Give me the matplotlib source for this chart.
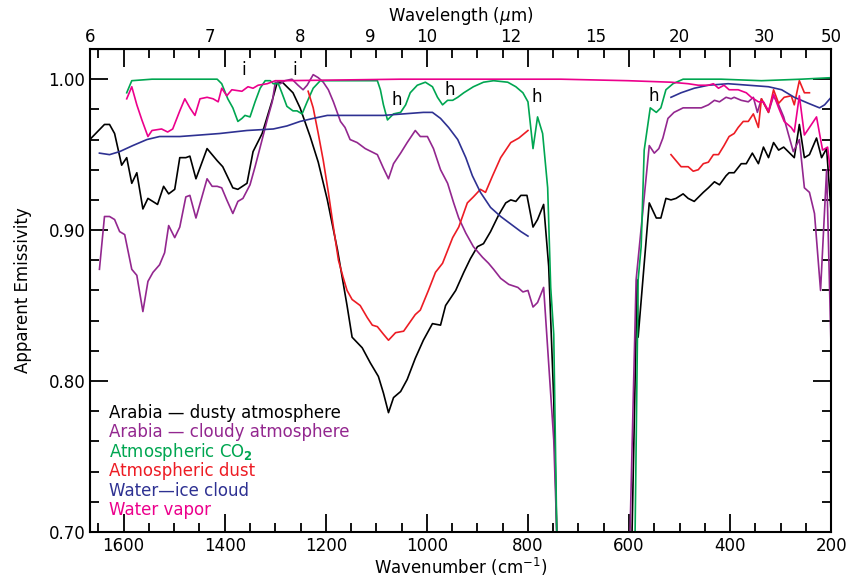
import matplotlib
matplotlib.use("Agg")
import matplotlib.pyplot as plt
import numpy as np
from matplotlib.ticker import MultipleLocator, FormatStrFormatter, NullLocator

# wavenumber (cm^-1) / apparent emissivity
dusty_wn = [1667, 1638, 1628, 1618, 1604, 1594, 1584, 1574, 1562, 1552, 1533, 1521, 1511, 1499,
            1489, 1477, 1469, 1457, 1435, 1415, 1404, 1384, 1374, 1356, 1344, 1326, 1316, 1306,
            1296, 1286, 1265, 1251, 1231, 1215, 1197, 1177, 1158, 1148, 1128, 1112, 1096, 1086,
            1076, 1066, 1052, 1039, 1023, 1007, 989, 973, 963, 943, 927, 914, 900, 888, 874, 858,
            844, 834, 824, 814, 802, 790, 781, 769, 759, 749, 743, 736]
dusty_e = [0.960, 0.970, 0.970, 0.964, 0.943, 0.948, 0.931, 0.938, 0.914, 0.921, 0.917, 0.929,
           0.924, 0.927, 0.948, 0.948, 0.949, 0.934, 0.954, 0.946, 0.942, 0.928, 0.927, 0.931,
           0.952, 0.964, 0.975, 0.986, 0.998, 0.998, 0.991, 0.981, 0.962, 0.945, 0.920, 0.887,
           0.850, 0.829, 0.822, 0.812, 0.803, 0.792, 0.779, 0.789, 0.793, 0.801, 0.815, 0.827,
           0.838, 0.837, 0.850, 0.860, 0.872, 0.881, 0.889, 0.891, 0.899, 0.910, 0.918, 0.920,
           0.919, 0.923, 0.923, 0.902, 0.907, 0.917, 0.876, 0.788, 0.700, 0.600]
dusty_wn2 = [600, 594, 584, 582, 560, 546, 537, 527, 517, 507, 493, 483, 471, 453, 443, 431, 421,
             408, 402, 392, 378, 368, 356, 344, 334, 324, 314, 304, 294, 285, 273, 263, 253, 243,
             229, 219, 209, 200]
dusty_e2 = [0.600, 0.700, 0.867, 0.829, 0.918, 0.908, 0.908, 0.921, 0.920, 0.921, 0.924, 0.921,
            0.919, 0.925, 0.928, 0.932, 0.930, 0.936, 0.938, 0.938, 0.944, 0.944, 0.951, 0.944,
            0.955, 0.948, 0.958, 0.953, 0.955, 0.952, 0.948, 0.970, 0.948, 0.950, 0.961, 0.948,
            0.954, 0.911]

cloudy_wn = [1648, 1638, 1628, 1618, 1608, 1598, 1584, 1574, 1562, 1552, 1542, 1529, 1519, 1511,
             1499, 1489, 1477, 1469, 1457, 1435, 1425, 1415, 1406, 1396, 1384, 1374, 1364, 1350,
             1340, 1326, 1316, 1306, 1300, 1290, 1281, 1267, 1255, 1245, 1237, 1225, 1215, 1205,
             1195, 1185, 1171, 1162, 1152, 1138, 1122, 1098, 1086, 1076, 1066, 1052, 1039, 1023,
             1013, 999, 987, 973, 959, 947, 937, 923, 908, 890, 878, 868, 854, 838, 820, 810, 800,
             790, 781, 769, 749, 743, 729]
cloudy_e = [0.874, 0.909, 0.909, 0.907, 0.899, 0.897, 0.874, 0.870, 0.846, 0.866, 0.872, 0.877,
            0.885, 0.903, 0.895, 0.902, 0.922, 0.923, 0.908, 0.934, 0.929, 0.929, 0.928, 0.920,
            0.911, 0.919, 0.921, 0.930, 0.942, 0.960, 0.973, 0.985, 0.998, 0.997, 0.999, 1.000,
            0.996, 0.993, 0.996, 1.003, 1.001, 0.998, 0.993, 0.985, 0.972, 0.968, 0.960, 0.958,
            0.954, 0.950, 0.941, 0.934, 0.944, 0.951, 0.958, 0.966, 0.962, 0.962, 0.954, 0.940,
            0.931, 0.918, 0.908, 0.898, 0.889, 0.882, 0.878, 0.874, 0.868, 0.864, 0.862, 0.859,
            0.860, 0.849, 0.852, 0.862, 0.761, 0.700, 0.600]
cloudy_wn2 = [603, 598, 586, 560, 550, 541, 533, 523, 511, 493, 483, 471, 457, 443, 431, 421, 408,
              398, 392, 378, 364, 354, 346, 338, 324, 314, 304, 294, 285, 275, 263, 253, 243, 233,
              221, 209, 200]
cloudy_e2 = [0.600, 0.700, 0.867, 0.956, 0.951, 0.954, 0.961, 0.974, 0.978, 0.981, 0.981, 0.981,
             0.981, 0.983, 0.986, 0.985, 0.988, 0.987, 0.988, 0.986, 0.985, 0.988, 0.978, 0.987,
             0.978, 0.989, 0.983, 0.975, 0.964, 0.952, 0.960, 0.928, 0.925, 0.911, 0.860, 0.940,
             0.819]

co2_wn = [1594, 1584, 1544, 1479, 1415, 1406, 1394, 1384, 1374, 1366, 1360, 1350, 1340, 1330,
          1320, 1310, 1304, 1294, 1287, 1277, 1265, 1257, 1247, 1237, 1225, 1211, 1098, 1092, 1086,
          1078, 1066, 1052, 1042, 1033, 1019, 1003, 989, 979, 969, 959, 949, 939, 927, 908, 888,
          868, 840, 824, 810, 800, 790, 781, 771, 761, 755, 749, 743, 735]
co2_e = [0.991, 0.999, 1.000, 1.000, 1.000, 0.997, 0.987, 0.981, 0.972, 0.974, 0.976, 0.975, 0.985,
         0.994, 0.999, 0.999, 0.997, 0.997, 0.991, 0.982, 0.979, 0.979, 0.977, 0.985, 0.994, 0.999,
         0.999, 0.993, 0.983, 0.973, 0.977, 0.978, 0.983, 0.991, 0.996, 0.998, 0.995, 0.988, 0.983,
         0.986, 0.986, 0.988, 0.991, 0.995, 0.998, 0.999, 0.998, 0.995, 0.991, 0.985, 0.954, 0.975,
         0.964, 0.928, 0.862, 0.831, 0.700, 0.600]
co2_wn2 = [594, 588, 582, 576, 570, 558, 546, 537, 527, 513, 493, 418, 338, 259, 200]
co2_e2 = [0.600, 0.700, 0.867, 0.889, 0.953, 0.981, 0.978, 0.981, 0.993, 0.997, 1.000, 1.000,
          0.999, 1.000, 1.001]

dust_wn = [1235, 1225, 1215, 1205, 1195, 1185, 1175, 1166, 1158, 1148, 1132, 1118, 1108, 1098,
           1086, 1076, 1062, 1046, 1023, 1013, 997, 983, 969, 949, 937, 920, 908, 894, 884, 870,
           854, 834, 818, 800]
dust_e = [0.992, 0.981, 0.964, 0.946, 0.925, 0.902, 0.880, 0.869, 0.860, 0.854, 0.850, 0.842,
          0.837, 0.836, 0.831, 0.827, 0.832, 0.833, 0.844, 0.847, 0.860, 0.872, 0.878, 0.895,
          0.902, 0.918, 0.922, 0.927, 0.925, 0.936, 0.948, 0.958, 0.961, 0.966]
dust_wn2 = [517, 507, 497, 483, 473, 463, 453, 443, 433, 423, 412, 402, 392, 384, 374, 364, 354,
            344, 338, 324, 314, 304, 293, 279, 273, 263, 253, 243]
dust_e2 = [0.950, 0.946, 0.942, 0.942, 0.939, 0.940, 0.944, 0.945, 0.950, 0.950, 0.956, 0.962,
           0.964, 0.968, 0.972, 0.972, 0.977, 0.968, 0.987, 0.978, 0.993, 0.984, 0.988, 0.989,
           0.983, 0.999, 0.991, 0.991]

ice_wn = [1648, 1628, 1608, 1582, 1554, 1529, 1489, 1449, 1410, 1356, 1304, 1277, 1251, 1225,
          1197, 1086, 1007, 989, 973, 957, 939, 923, 910, 894, 874, 854, 834, 814, 800]
ice_e = [0.951, 0.950, 0.952, 0.956, 0.960, 0.962, 0.962, 0.963, 0.964, 0.966, 0.967, 0.969,
         0.972, 0.974, 0.976, 0.976, 0.978, 0.978, 0.974, 0.968, 0.960, 0.948, 0.936, 0.925,
         0.915, 0.909, 0.904, 0.899, 0.896]
ice_wn2 = [517, 497, 471, 443, 404, 364, 324, 298, 273, 245, 223, 213, 200]
ice_e2 = [0.988, 0.991, 0.994, 0.996, 0.997, 0.996, 0.995, 0.993, 0.988, 0.984, 0.981, 0.983,
          0.988]

vapor_wn = [1594, 1584, 1574, 1564, 1552, 1544, 1525, 1513, 1503, 1489, 1479, 1469, 1459, 1449,
            1435, 1423, 1413, 1406, 1396, 1386, 1366, 1354, 1344, 1334, 1316, 1300, 1281, 1052,
            735, 602, 517, 483, 463, 443, 433, 423, 412, 402, 384, 368, 358, 344, 334, 324, 314,
            304, 293, 279, 273, 263, 253, 243, 229, 217, 207, 200]
vapor_e = [0.987, 0.995, 0.983, 0.973, 0.962, 0.966, 0.967, 0.965, 0.967, 0.979, 0.987, 0.981,
           0.976, 0.987, 0.988, 0.987, 0.985, 0.994, 0.989, 0.993, 0.992, 0.995, 0.994, 0.996,
           0.997, 0.999, 0.999, 1.000, 1.000, 0.999, 0.998, 0.997, 0.996, 0.996, 0.997, 0.994,
           0.996, 0.993, 0.993, 0.991, 0.988, 0.985, 0.985, 0.979, 0.990, 0.981, 0.972, 0.968,
           0.965, 0.989, 0.963, 0.968, 0.975, 0.953, 0.955, 0.934]

labels = ["Arabia \u2014 dusty atmosphere", "Arabia \u2014 cloudy atmosphere",
          "Atmospheric CO$_\\mathbf{2}$", "Atmospheric dust", "Water\u2014ice cloud", "Water vapor"]
colors = ["#000000", "#93278f", "#00a651", "#ed1c24", "#2e3192", "#ec008c"]

# band labels: (wavenumber, emissivity, text)
notes_wn = [1362, 1261, 1060, 955, 783, 552]
notes_e = [1.006, 1.006, 0.986, 0.993, 0.988, 0.989]
notes_txt = ["i", "i", "h", "h", "h", "h"]

wavelength_ticks = [6, 7, 8, 9, 10, 12, 15, 20, 30, 50]

plt.rcParams["font.family"] = "DejaVu Sans"
fig = plt.figure(figsize=(8.49, 5.80), dpi=100)
ax = fig.add_axes([0.106, 0.083, 0.873, 0.8325])

series = [
    [(dusty_wn, dusty_e), (dusty_wn2, dusty_e2)],
    [(cloudy_wn, cloudy_e), (cloudy_wn2, cloudy_e2)],
    [(co2_wn, co2_e), (co2_wn2, co2_e2)],
    [(dust_wn, dust_e), (dust_wn2, dust_e2)],
    [(ice_wn, ice_e), (ice_wn2, ice_e2)],
    [(vapor_wn, vapor_e)],
]
for parts, c in zip(series, colors):
    for wn, e in parts:
        ax.plot(wn, e, color=c, lw=1.2)

ax.set_xlim(10000 / 6, 200)
ax.set_ylim(0.70, 1.02)
ax.xaxis.set_major_locator(MultipleLocator(200))
ax.xaxis.set_minor_locator(MultipleLocator(50))
ax.yaxis.set_major_locator(MultipleLocator(0.1))
ax.yaxis.set_minor_locator(MultipleLocator(0.02))
ax.yaxis.set_major_formatter(FormatStrFormatter("%.2f"))
ax.tick_params(which="both", direction="in", top=True, right=True, width=1.3, labelsize=12)
ax.tick_params(which="major", length=13)
ax.tick_params(which="minor", length=6.5)
for s in ax.spines.values():
    s.set_linewidth(1.5)

ax.set_xlabel("Wavenumber (cm$^{-1}$)", fontsize=12, labelpad=1)
ax.set_ylabel("Apparent Emissivity", fontsize=12, labelpad=12)

secax = ax.secondary_xaxis("top", functions=(lambda x: 10000 / x, lambda x: 10000 / x))
secax.set_xticks(wavelength_ticks)
secax.set_xticklabels([str(t) for t in wavelength_ticks])
secax.xaxis.set_minor_locator(NullLocator())
secax.tick_params(length=0, labelsize=12, pad=2)
secax.set_xlabel("Wavelength ($\\mu$m)", fontsize=12, labelpad=5)

for x, y, t in zip(notes_wn, notes_e, notes_txt):
    ax.text(x, y, t, fontsize=12, ha="center", va="center")

for i, (lab, c) in enumerate(zip(labels, colors)):
    ax.text(0.026, 0.2464 - i * 0.0404, lab, color=c, fontsize=12,
            transform=ax.transAxes, ha="left", va="center")

fig.savefig("out.png", dpi=100)
